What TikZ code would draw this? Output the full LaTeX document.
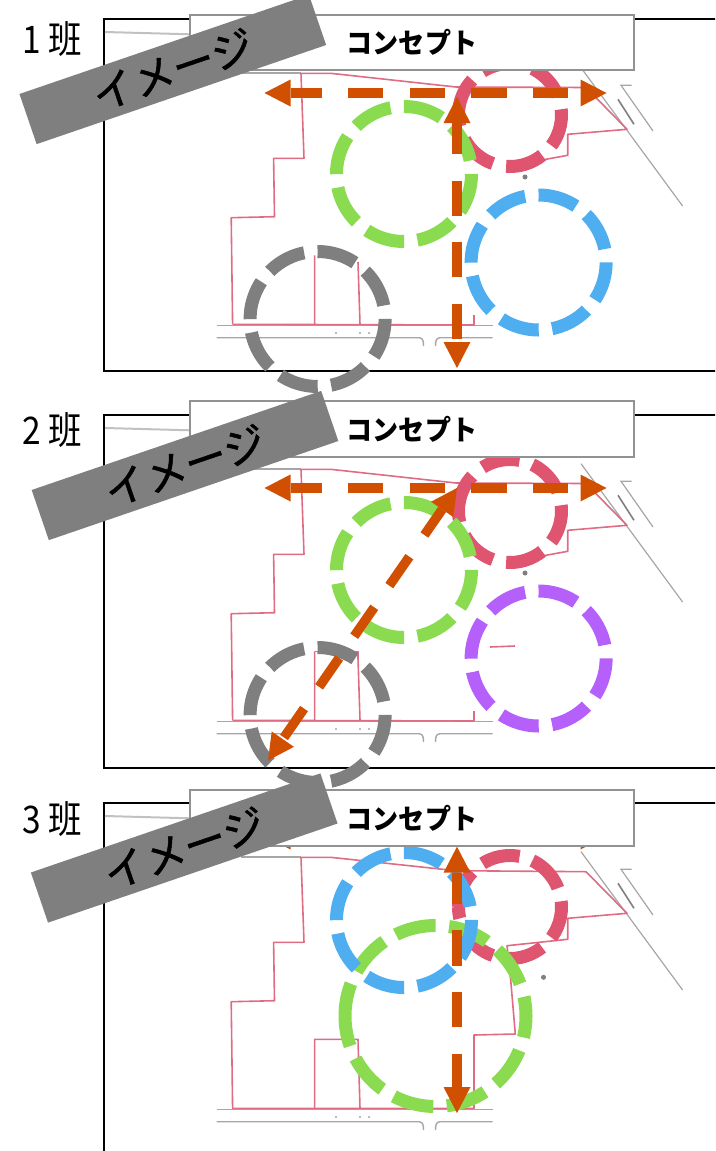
\documentclass[tikz,border=0pt]{standalone}
\usepackage{fontspec}
\setmainfont{Noto Sans CJK JP}
\newfontfamily\bandfont[FakeBold=1.2]{Noto Sans CJK JP}
\usetikzlibrary{arrows.meta}
\definecolor{orangeA}{HTML}{D14F00}
\definecolor{greenA}{HTML}{8BDB50}
\definecolor{redA}{HTML}{DF5570}
\definecolor{blueA}{HTML}{4FAEF0}
\definecolor{purpleA}{HTML}{B560FB}
\definecolor{grayA}{HTML}{7F7F7F}
\definecolor{planred}{HTML}{E06C84}
\definecolor{planroad}{HTML}{A6A6A6}
\tikzset{
  framebox/.style={draw=black,line width=2pt},
  planwall/.style={draw=planred,line width=1.6pt,line join=round},
  planline/.style={draw=planroad,line width=1.4pt},
  ring/.style={line width=13pt,dash pattern=on 39.5pt off 13.5pt},
  ringbig/.style={line width=13pt,dash pattern=on 41pt off 13.6pt,dash phase=8pt},
  ringsmall/.style={line width=13pt,dash pattern=on 38.5pt off 13.5pt},
  bigarrow/.style={draw=orangeA,line width=9.5pt,dash pattern=on 35.2pt off 26.4pt,dash phase=4pt,
    {Triangle[length=26pt,width=27pt,fill=orangeA,line width=0pt,sep=0pt]}-{Triangle[length=26pt,width=27pt,fill=orangeA,line width=0pt,sep=0pt]}},
  conceptbox/.style={draw=grayA!85,fill=white,line width=2pt,minimum width=444pt,inner sep=0pt,font=\fontsize{28}{28}\selectfont\bfseries},
  bandbox/.style={fill=grayA,text=black,rotate=18.9,minimum width=306pt,minimum height=53pt,inner sep=0pt,font=\fontsize{42}{42}\selectfont\bandfont},
  teamlabel/.style={inner sep=0pt,font=\fontsize{38}{38}\selectfont},
}
\newcommand{\ringat}[5]{\draw[#1,#5] ({#2-#4},#3) arc[start angle=180,delta angle=360,radius=#4];}
\newcommand{\plancommon}{%
  \draw[planline,draw=planroad!70,line width=2pt] (105,32) -- (190,34.3);
  \draw[planline] (241,73) -- (301,73);
  \draw[planline,line width=1.2pt] (581,67.7) -- (682.6,206);
  \draw[planline,line width=1.2pt] (631.6,85.3) -- (621,85.3) -- (653,131);
  \draw[planline,line width=1.6pt,draw=grayA] (618,99.3) -- (634,124.3);
  \draw[planline] (216.6,325.3) -- (492.5,325.3);
  \draw[planline] (216.6,337.7) -- (419,337.7) .. controls (423,338) and (423.5,341) .. (423.5,346);
  \draw[planline] (492.5,337.7) -- (440,337.7) .. controls (436,338) and (435.5,341) .. (435.5,346);
  \fill[grayA!70] (336,333) circle (1.2pt) (360,333) circle (1.2pt) (369,333) circle (1.2pt);
}
\newcommand{\planwalls}{%
  \fill[grayA] (525,177) circle (2.5pt);
  \draw[planwall] (232.6,324.3) -- (231.2,217.7) -- (274.5,216.7) -- (273.6,158.3) -- (304,158.3) -- (301,73.3) -- (330.6,73.3) -- (456,87) -- (586,87.5) -- (627,129.3) -- (567.7,134.3) -- (567.7,155.3) -- (542,160);
  \draw[planwall] (232.6,324.3) -- (474,325);
  \draw[planwall] (314.6,324.3) -- (314.6,255.3) (358,262) -- (360,324.3) (474,315) -- (474,325);
}
\begin{document}
\begin{tikzpicture}[x=1pt,y=-1pt]
\useasboundingbox (0,0) rectangle (715,1151);
\clip (0,0) rectangle (715,1151);
% ---------- panel 1
\begin{scope}
  \draw[framebox] (725,19) -- (103.5,19) -- (103.5,371) -- (725,371);
  \plancommon
  \planwalls
  \ringat{redA}{510}{115}{51.5}{ringsmall}
  \ringat{greenA}{404}{174}{67.5}{ring}
  \ringat{blueA}{538.6}{262.5}{67.5}{ring}
  \ringat{grayA}{317.6}{319}{67.5}{ring}
  \coordinate (aL) at (264.5,93);
  \coordinate (aR) at (606.5,93);
  \coordinate (aT) at (457,97);
  \coordinate (aB) at (457,368);
  \draw[bigarrow] (aL) -- (aR);
  \draw[bigarrow] (aT) -- (aB);
  \node[teamlabel] (labelA) at (52,39) {\scalebox{0.88}[1]{1 班}};
\end{scope}
\node[conceptbox,minimum height=55pt] (conceptA) at (412,42.5) {\scalebox{0.93}[1]{コンセプト}};
\node[bandbox] (bandA) at (172.8,69.5) {イメージ};
% ---------- panel 2
\begin{scope}[shift={(0,396)}]
  \draw[framebox] (725,19) -- (103.5,19) -- (103.5,372) -- (725,372);
  \plancommon
  \planwalls
  \draw[planwall] (314.6,255.6) -- (358,255.6) -- (358,262);
  \draw[planwall] (490,251) -- (515,250);
  \ringat{redA}{510}{115}{51.5}{ringsmall}
  \ringat{greenA}{404}{174}{67.5}{ring}
  \ringat{purpleA}{538.6}{262.5}{67.5}{ring}
  \ringat{grayA}{317.6}{319}{67.5}{ring}
  \coordinate (bL) at (264.5,92);
  \coordinate (bR) at (606.5,92);
  \coordinate (bT) at (457,92);
  \coordinate (bB) at (268,364.5);
  \draw[bigarrow] (bL) -- (bR);
  \draw[bigarrow] (bT) -- (bB);
  \node[teamlabel] (labelB) at (52,34) {\scalebox{0.88}[1]{2 班}};
\end{scope}
\node[conceptbox,minimum height=56pt] (conceptB) at (412,429) {\scalebox{0.93}[1]{コンセプト}};
\node[bandbox] (bandB) at (185,465.5) {イメージ};
% ---------- panel 3
\begin{scope}[shift={(0,784)}]
  \draw[framebox] (725,19) -- (103.5,19) -- (103.5,380);
  \plancommon
  \fill[grayA] (543.5,193.3) circle (2.5pt);
  \draw[planwall] (232.6,324.3) -- (231.2,217.7) -- (274.5,216.7) -- (273.6,158.3) -- (304,158.3) -- (301,73.3) -- (330.6,73.3) -- (456,86.7) -- (586,87.7) -- (627,129.3) -- (567.7,134.3) -- (567.7,155.3) -- (507,161.7) -- (510.7,196) -- (515.3,250) -- (474,251) -- (474,324.3) -- cycle;
  \draw[planwall] (314.6,324.3) -- (314.6,255.3) -- (358,255.3) -- (360,324.3);
  \ringat{redA}{510}{123}{51.5}{ringsmall}
  \ringat{greenA}{435.5}{232}{90.5}{ringbig}
  \ringat{blueA}{404}{136}{67.5}{ring}
  \coordinate (cL) at (264.5,52);
  \coordinate (cR) at (606.5,52);
  \coordinate (cT) at (457,62.7);
  \coordinate (cB) at (457,329);
  \draw[bigarrow] (cL) -- (cR);
  \draw[bigarrow] (cT) -- (cB);
  \node[teamlabel] (labelC) at (52,35) {\scalebox{0.88}[1]{3 班}};
\end{scope}
\node[conceptbox,minimum height=56pt] (conceptC) at (412,818) {\scalebox{0.93}[1]{コンセプト}};
\node[bandbox] (bandC) at (184.2,848) {イメージ};
\end{tikzpicture}
\end{document}
